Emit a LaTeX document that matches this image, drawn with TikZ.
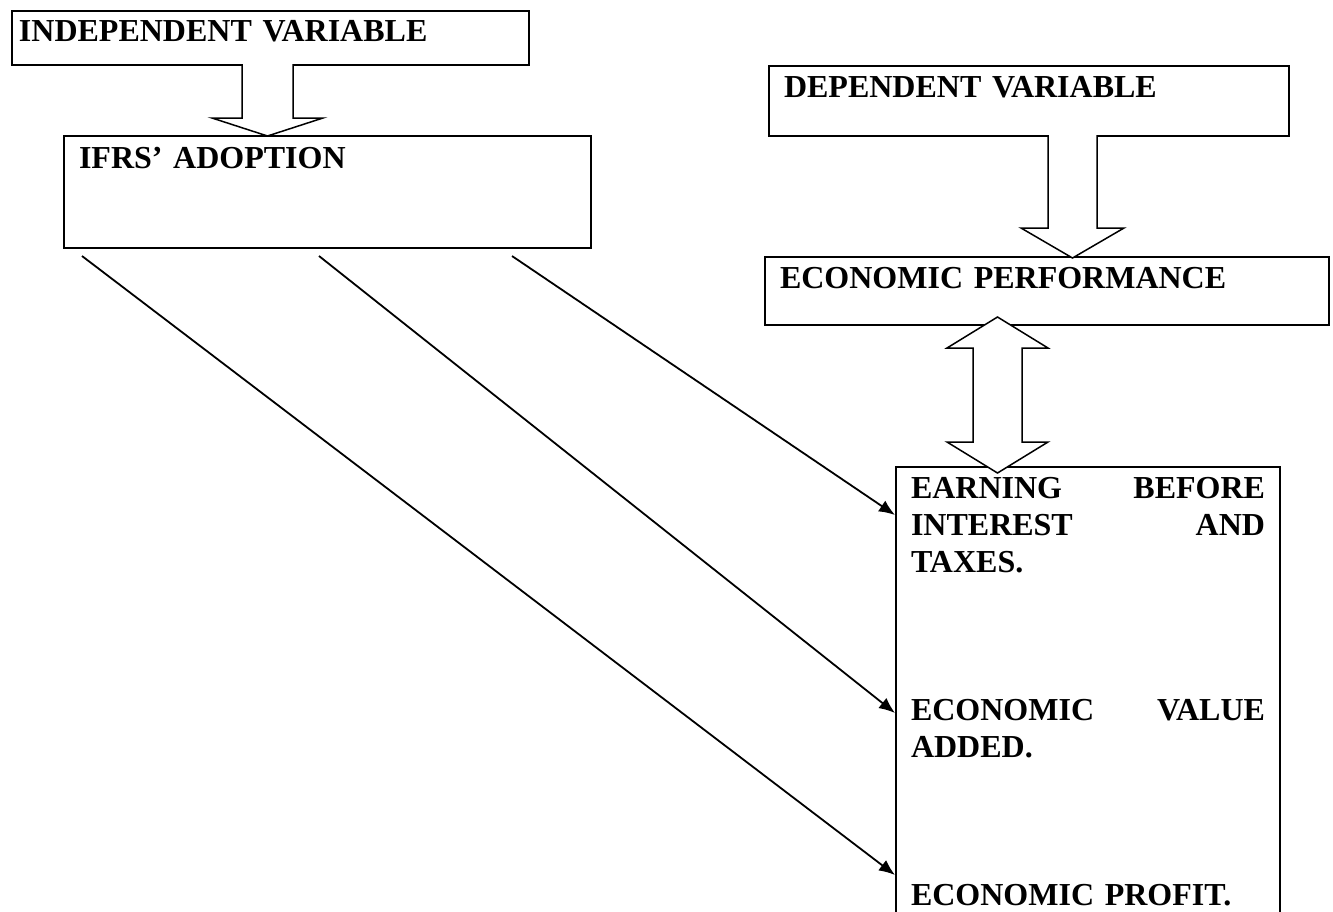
\documentclass[tikz,border=0pt]{standalone}
\usepackage{fontspec}
\setmainfont{Liberation Serif}
\usetikzlibrary{calc,arrows.meta}
\begin{document}
\begin{tikzpicture}[x=1pt,y=-1pt,
  box/.style={draw, line width=2pt, anchor=north west, inner ysep=0pt, align=left,
    font=\bfseries\fontsize{32}{37}\selectfont},
  blockarrow/.style={draw, fill=white, line width=1.5pt, line join=miter},
  link/.style={line width=1.8pt, -{Latex[length=16pt,width=13pt]}}]
\useasboundingbox (0,0) rectangle (1333,911);
\fill[white] (0,0) rectangle (1333,911);
\clip (0,0) rectangle (1333,911);

% boxes
\node[box, inner xsep=7pt, text width=503pt, text height=30pt, text depth=24pt] (iv) at (11,10) {INDEPENDENT VARIABLE};
\node[box, inner xsep=15pt, text width=497pt, text height=32pt, text depth=80pt] (ifrs) at (63,135) {IFRS’ ADOPTION};
\node[box, inner xsep=15pt, text width=490pt, text height=31pt, text depth=39pt] (dv) at (768,65) {DEPENDENT VARIABLE};
\node[box, inner xsep=15pt, text width=534pt, text height=31pt, text depth=37pt] (ep) at (764,256) {ECONOMIC PERFORMANCE};
\node[box, inner xsep=15pt, text width=354pt, text height=31pt, text depth=520pt] (rb) at (895,466)
  {EARNING\hfill BEFORE\\ INTEREST\hfill AND\\ TAXES.\\ ~\\ ~\\ ~\\ ECONOMIC\hfill VALUE\\ ADDED.\\ ~\\ ~\\ ~\\ ECONOMIC PROFIT.};

% connector end points
\coordinate (s1) at ($(ifrs.south west)+(19,7)$);
\coordinate (s2) at ($(ifrs.south west)+(256,7)$);
\coordinate (s3) at ($(ifrs.south west)+(449,7)$);
\coordinate (e1) at ($(rb.north west)+(0,49)$);
\coordinate (e2) at ($(rb.north west)+(0,247)$);
\coordinate (e3) at ($(rb.north west)+(0,409)$);

\draw[link] (s3) -- (e1);
\draw[link] (s2) -- (e2);
\draw[link] (s1) -- (e3);

% block arrows
\draw[blockarrow] (242,64) -- (242,118) -- (212,118) -- (267.5,136) -- (323,118) -- (293,118) -- (293,64);
\draw[blockarrow] (1048,135) -- (1048,228) -- (1021,228) -- (1072.5,258) -- (1124,228) -- (1097,228) -- (1097,135);
\draw[blockarrow] (997.5,317) -- (1048,348) -- (1022,348) -- (1022,442) -- (1048,442) -- (997.5,473)
  -- (947,442) -- (973,442) -- (973,348) -- (947,348) -- cycle;
\end{tikzpicture}
\end{document}
